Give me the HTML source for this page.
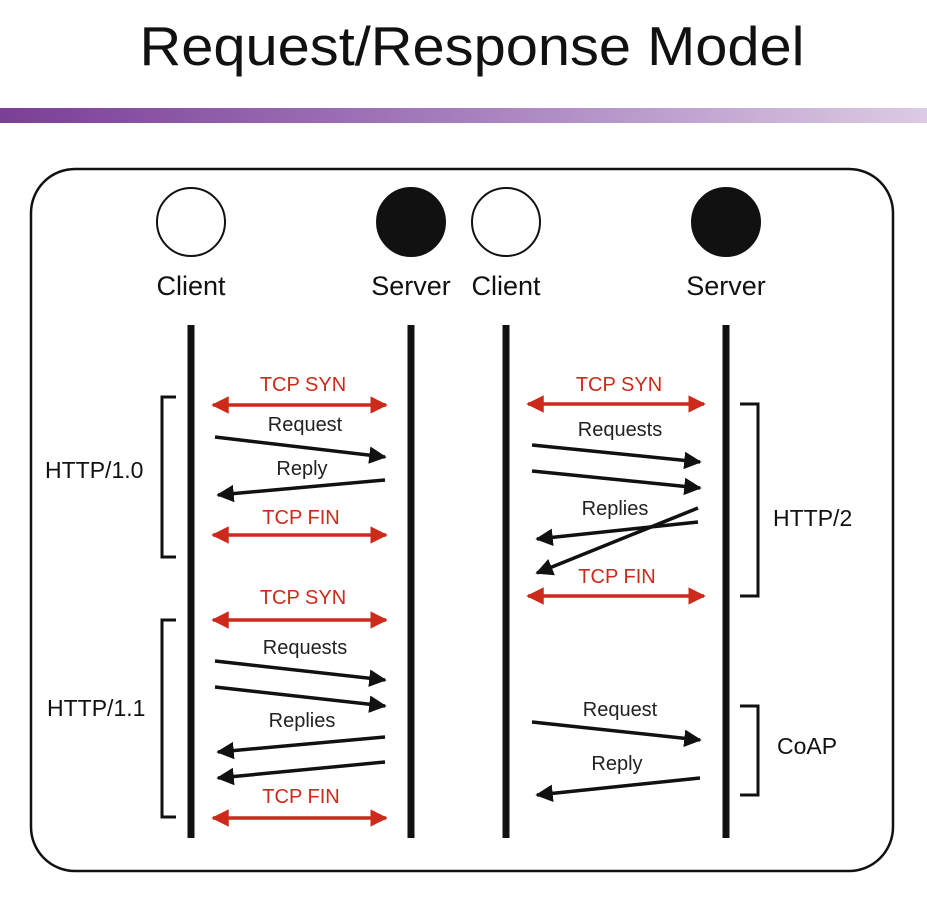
<!DOCTYPE html>
<html><head><meta charset="utf-8"><style>
body{margin:0;background:#fff;}
svg{display:block;}
text{font-family:"Liberation Sans",sans-serif;}
</style></head><body>
<svg width="927" height="900" viewBox="0 0 927 900">
<defs>
<linearGradient id="g" x1="0" x2="1"><stop offset="0" stop-color="#7a3f96"/><stop offset="0.5" stop-color="#a67fbd"/><stop offset="1" stop-color="#dccbe4"/></linearGradient>
<marker id="ab" viewBox="0 0 10 10" refX="9" refY="5" markerWidth="5" markerHeight="5" orient="auto-start-reverse"><path d="M0,0L10,5L0,10z" fill="#111"/></marker>
<marker id="ar" viewBox="0 0 10 10" refX="9" refY="5" markerWidth="5" markerHeight="5" orient="auto-start-reverse"><path d="M0,0L10,5L0,10z" fill="#cc2a1a"/></marker>
</defs>
<text x="472" y="65" font-size="55" text-anchor="middle" fill="#111" textLength="665" lengthAdjust="spacingAndGlyphs">Request/Response Model</text>
<rect x="0" y="108" width="927" height="15" fill="url(#g)"/>
<rect x="31" y="169" width="862" height="702" rx="44" fill="none" stroke="#111" stroke-width="2.5"/>
<g stroke="#111" stroke-width="2">
<circle cx="191" cy="222" r="34" fill="#fff"/>
<circle cx="411" cy="222" r="34" fill="#111"/>
<circle cx="506" cy="222" r="34" fill="#fff"/>
<circle cx="726" cy="222" r="34" fill="#111"/>
</g>
<g font-size="27" fill="#111" text-anchor="middle">
<text x="191" y="295">Client</text><text x="411" y="295">Server</text>
<text x="506" y="295">Client</text><text x="726" y="295">Server</text>
</g>
<g stroke="#111" stroke-width="7">
<line x1="191" y1="325" x2="191" y2="838"/><line x1="411" y1="325" x2="411" y2="838"/>
<line x1="506" y1="325" x2="506" y2="838"/><line x1="726" y1="325" x2="726" y2="838"/>
</g>
<g fill="none" stroke="#111" stroke-width="3">
<path d="M176,397H162V557H176"/>
<path d="M176,620H162V817H176"/>
<path d="M740,404H758V596H740"/>
<path d="M740,706H758V795H740"/>
</g>
<g font-size="23" fill="#111">
<text x="45" y="478">HTTP/1.0</text>
<text x="47" y="716">HTTP/1.1</text>
<text x="773" y="526">HTTP/2</text>
<text x="777" y="754">CoAP</text>
</g>
<g stroke="#cc2a1a" stroke-width="3.5" marker-start="url(#ar)" marker-end="url(#ar)">
<line x1="213" y1="405" x2="386" y2="405"/>
<line x1="213" y1="535" x2="386" y2="535"/>
<line x1="213" y1="620" x2="386" y2="620"/>
<line x1="213" y1="818" x2="386" y2="818"/>
<line x1="528" y1="404" x2="704" y2="404"/>
<line x1="528" y1="596" x2="704" y2="596"/>
</g>
<g stroke="#111" stroke-width="3.5" marker-end="url(#ab)">
<line x1="215" y1="437" x2="385" y2="457"/>
<line x1="385" y1="480" x2="218" y2="495"/>
<line x1="215" y1="661" x2="385" y2="680"/>
<line x1="215" y1="687" x2="385" y2="706"/>
<line x1="385" y1="737" x2="218" y2="752"/>
<line x1="385" y1="762" x2="218" y2="778"/>
<line x1="532" y1="445" x2="700" y2="462"/>
<line x1="532" y1="471" x2="700" y2="488"/>
<line x1="698" y1="522" x2="537" y2="539"/>
<line x1="698" y1="508" x2="537" y2="573"/>
<line x1="532" y1="722" x2="700" y2="740"/>
<line x1="700" y1="778" x2="537" y2="795"/>
</g>
<g font-size="20" text-anchor="middle">
<g fill="#cc2a1a">
<text x="303" y="391">TCP SYN</text><text x="301" y="524">TCP FIN</text>
<text x="303" y="604">TCP SYN</text><text x="301" y="803">TCP FIN</text>
<text x="619" y="391">TCP SYN</text><text x="617" y="583">TCP FIN</text>
</g>
<g fill="#222">
<text x="305" y="431">Request</text><text x="302" y="475">Reply</text>
<text x="305" y="654">Requests</text><text x="302" y="727">Replies</text>
<text x="620" y="436">Requests</text><text x="615" y="515">Replies</text>
<text x="620" y="716">Request</text><text x="617" y="770">Reply</text>
</g>
</g>
</svg>
</body></html>
